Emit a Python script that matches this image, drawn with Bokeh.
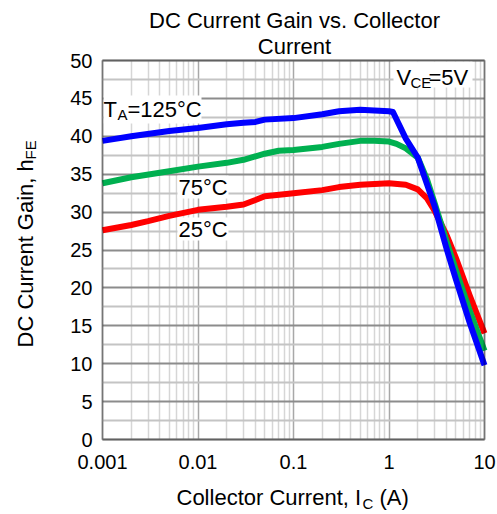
import math
from bokeh.plotting import figure
from bokeh.models import (Label, FixedTicker, BoxAnnotation, Range1d, LinearAxis, LogAxis, Grid)
from bokeh.embed import file_html
from bokeh.resources import INLINE

# ---- data ----
x_decades = [0.001, 0.01, 0.1, 1, 10]
x_tick_labels = ["0.001", "0.01", "0.1", "1", "10"]
y_ticks = [0, 5, 10, 15, 20, 25, 30, 35, 40, 45, 50]

ic_125 = [0.001, 0.002, 0.005, 0.01, 0.02, 0.03, 0.04, 0.05, 0.1, 0.2, 0.3, 0.5, 0.7, 1.0, 1.1, 1.5, 2, 3, 4, 5, 7, 10]
hfe_125 = [39.4, 40.0, 40.7, 41.1, 41.6, 41.8, 41.9, 42.2, 42.4, 42.9, 43.3, 43.5, 43.4, 43.3, 43.2, 39.7, 37.2, 30.8, 25.2, 21.2, 15.4, 9.8]

ic_75 = [0.001, 0.002, 0.005, 0.01, 0.02, 0.03, 0.05, 0.07, 0.1, 0.2, 0.3, 0.5, 0.7, 1.0, 1.2, 1.5, 2, 2.5, 3, 4, 5, 7, 10]
hfe_75 = [33.8, 34.6, 35.4, 36.0, 36.5, 36.9, 37.7, 38.1, 38.2, 38.6, 39.0, 39.4, 39.4, 39.3, 39.0, 38.4, 37.2, 34.3, 31.2, 26.2, 22.4, 17.0, 11.7]

ic_25 = [0.001, 0.002, 0.003, 0.005, 0.01, 0.02, 0.03, 0.04, 0.05, 0.1, 0.2, 0.3, 0.5, 1.0, 1.5, 2, 2.5, 3, 4, 5, 7, 10]
hfe_25 = [27.6, 28.3, 28.8, 29.5, 30.3, 30.7, 31.0, 31.6, 32.1, 32.5, 32.9, 33.3, 33.6, 33.8, 33.6, 33.0, 31.8, 30.2, 27.0, 24.0, 19.0, 14.0]

# ---- layout constants (pixels) ----
W, H = 497, 514
PL, PR, PT, PB = 102, 484, 60, 439          # plot box edges on the canvas
XMIN, XMAX, YMIN, YMAX = 0.001, 10, 0, 50

FONT = "Liberation Sans"
BIG = 22
TICK = "20px"
SMALL = 15

# extend the ranges so that the whole canvas is the frame, plot box at PL..PR / PT..PB
dec_px = (PR - PL) / (math.log10(XMAX) - math.log10(XMIN))
unit_px = (PB - PT) / (YMAX - YMIN)
x_lo = 10 ** (math.log10(XMIN) - PL / dec_px)
x_hi = 10 ** (math.log10(XMAX) + (W - PR) / dec_px)
y_lo = YMIN - (H - PB) / unit_px
y_hi = YMAX + PT / unit_px

p = figure(width=W, height=H, x_axis_type="log",
           x_range=Range1d(x_lo, x_hi), y_range=Range1d(y_lo, y_hi),
           x_axis_location=None, y_axis_location=None,
           output_backend="svg", toolbar_location=None,
           min_border=0, min_border_left=0, min_border_right=0,
           min_border_top=0, min_border_bottom=0)
p.background_fill_color = "white"
p.border_fill_color = "white"
p.outline_line_color = None
for g in p.grid:
    g.visible = False

x_minor = [m * d for d in x_decades[:-1] for m in range(2, 10)]
y_minor = [t + 2.5 for t in y_ticks[:-1]]

has_cross = "cross_bounds" in Grid.properties()
gx_kw = dict(dimension=0, ticker=FixedTicker(ticks=x_decades, minor_ticks=x_minor), bounds=(XMIN, XMAX),
             grid_line_color="#A8A8A8", grid_line_width=1.5,
             minor_grid_line_color="#D6D6D6", minor_grid_line_width=1.5)
gy_kw = dict(dimension=1, ticker=FixedTicker(ticks=y_ticks, minor_ticks=y_minor), bounds=(YMIN, YMAX),
             grid_line_color="#8C8C8C", grid_line_width=2,
             minor_grid_line_color="#C4C4C4", minor_grid_line_width=2)
if has_cross:
    gx_kw["cross_bounds"] = (YMIN, YMAX)
    gy_kw["cross_bounds"] = (XMIN, XMAX)
p.add_layout(Grid(**gx_kw))
p.add_layout(Grid(**gy_kw))

# axes drawn at fixed locations on the plot box edges
xax = LogAxis(fixed_location=YMIN, ticker=FixedTicker(ticks=x_decades), bounds=(XMIN, XMAX))
xax.major_label_overrides = {v: s for v, s in zip(x_decades, x_tick_labels)}
yax = LinearAxis(fixed_location=XMIN, ticker=FixedTicker(ticks=y_ticks), bounds=(YMIN, YMAX))
for ax in (xax, yax):
    ax.axis_line_color = None
    ax.major_tick_line_color = None
    ax.minor_tick_line_color = None
    ax.major_tick_out = 0
    ax.major_tick_in = 0
    ax.minor_tick_out = 0
    ax.minor_tick_in = 0
    ax.major_label_text_font = FONT
    ax.major_label_text_font_size = TICK
    ax.major_label_text_color = "black"
xax.major_label_standoff = 15
yax.major_label_standoff = 10
p.add_layout(xax, "below")
p.add_layout(yax, "left")

p.line(ic_25, hfe_25, line_color="#FF0000", line_width=6, line_join="round")
p.line(ic_75, hfe_75, line_color="#00B050", line_width=6, line_join="round")
p.line(ic_125, hfe_125, line_color="#0000FF", line_width=6, line_join="round")


def sy(py):
    return H - py


# white boxes behind in-plot annotations (page pixels)
boxes = [(103, 201, 95, 123), (177, 228, 175, 198), (177, 228, 217, 240), (393, 472, 61, 87)]
for (l, r, t, b) in boxes:
    p.add_layout(BoxAnnotation(left=l, right=r, bottom=sy(b), top=sy(t),
                               left_units="screen", right_units="screen",
                               bottom_units="screen", top_units="screen",
                               fill_color="white", fill_alpha=1.0, line_color=None))

# plot box outline
p.add_layout(BoxAnnotation(left=XMIN, right=XMAX, bottom=YMIN, top=YMAX,
                           fill_alpha=0, line_color="black", line_width=2))


def lab(px, py, text, size=BIG, align="left", rotated=False):
    # px, py: baseline position on the page; Bokeh renders a little below the
    # requested alphabetic baseline, so compensate by ~0.29 em
    off = 0.29 * size
    if rotated:
        x, y, angle = px - off, sy(py), math.pi / 2
    else:
        x, y, angle = px, sy(py - off), 0
    p.add_layout(Label(x=x, y=y, x_units="screen", y_units="screen", text=text,
                       text_font=FONT, text_font_size=f"{size}px", text_color="black",
                       text_align=align, text_baseline="alphabetic", angle=angle))


# title
lab(294, 26, "DC Current Gain vs. Collector", align="center")
lab(294, 52, "Current", align="center")

# in-plot annotations
lab(103, 115, "T")
lab(117, 118, "A", size=SMALL)
lab(127, 115, "=125°C")
lab(178, 193, "75°C")
lab(178, 235, "25°C")
lab(396, 83, "V")
lab(410, 86, "CE", size=SMALL)
lab(428, 83, "=5V")

# x axis label
lab(176, 503, "Collector Current, I")
lab(362, 507, "C", size=SMALL)
lab(379, 503, "(A)")

# y axis label (rotated)
lab(31, 347, "DC Current Gain, h", rotated=True)
lab(34, 159, "FE", size=SMALL, rotated=True)

open("out.html", "w").write(file_html(p, INLINE))
